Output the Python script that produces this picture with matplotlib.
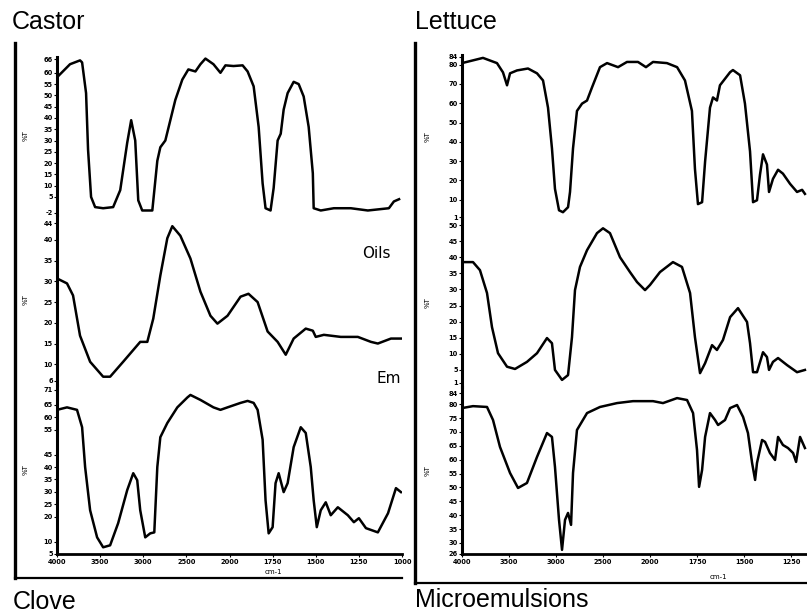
import numpy as np
import matplotlib
matplotlib.use('Agg')
import matplotlib.pyplot as plt
from matplotlib.lines import Line2D

# ====== Spectra (wavenumber cm-1, %T) ======

castor_oil_wn = [4000, 3849, 3733, 3709, 3663, 3640, 3605, 3558, 3465, 3349,
                 3267, 3186, 3140, 3093, 3058, 3012, 2895, 2837, 2802, 2744,
                 2686, 2628, 2547, 2477, 2395, 2337, 2279, 2186, 2105, 2047,
                 1977, 1924, 1895, 1860, 1831, 1808, 1791, 1762, 1744, 1721,
                 1703, 1686, 1663, 1628, 1599, 1570, 1541, 1517, 1512, 1471,
                 1395, 1297, 1198, 1076, 1047, 1017]
castor_oil_t = [58, 63.8, 65.5, 64.6, 51, 26, 5, 0.5, 0, 0.5,
                8, 29, 39, 30, 3.5, -1, -1, 21, 27, 30,
                39, 48, 57, 61.5, 60.6, 63.8, 66.3, 63.8, 60, 63.3,
                63, 63.3, 60.6, 54, 36, 11, 0, -1, 9, 30,
                33, 43.7, 51, 56, 55, 49.5, 36, 15.5, 0, -1,
                0, 0, -1, 0, 3, 4]

castor_em_wn = [4000, 3884, 3814, 3733, 3616, 3465, 3384, 3233, 3035, 2953,
                2884, 2802, 2721, 2663, 2570, 2453, 2337, 2221, 2140, 2023,
                1936, 1890, 1837, 1779, 1721, 1674, 1628, 1558, 1517, 1500,
                1453, 1355, 1256, 1180, 1140, 1064, 1006]
castor_em_t = [30.7, 29.5, 26.6, 16.9, 10.6, 7, 7, 10.6, 15.4, 15.4,
               21, 31.4, 40.4, 43.3, 41, 35.5, 27.5, 21.7, 19.8, 21.7,
               26.3, 27, 25, 17.9, 15.4, 12.3, 16.2, 18.6, 18.1, 16.6,
               17.1, 16.6, 16.6, 15.4, 15, 16.2, 16.2]

clove_wn = [4000, 3884, 3768, 3709, 3674, 3616, 3535, 3465, 3384, 3291,
            3186, 3116, 3070, 3035, 2977, 2919, 2872, 2837, 2802, 2721,
            2605, 2488, 2453, 2337, 2186, 2105, 2023, 1936, 1895, 1860,
            1837, 1808, 1791, 1773, 1750, 1733, 1715, 1686, 1663, 1628,
            1587, 1558, 1529, 1512, 1494, 1471, 1442, 1413, 1372, 1314,
            1279, 1250, 1209, 1140, 1081, 1035, 1006]
clove_t = [63, 64, 63, 56, 40, 22.6, 11.7, 7.7, 8.5, 17.4,
           30.7, 37.5, 34.7, 22.6, 11.7, 13.3, 13.7, 40, 52, 57.7,
           64, 68, 69, 67, 64, 63, 64, 65.8, 66.6, 65.8,
           63, 51, 26.6, 13.3, 15.8, 33.5, 37.5, 29.9, 33.5, 48,
           56, 53.7, 40, 26.6, 15.8, 22.6, 25.8, 20.6, 23.8, 20.6,
           17.8, 19.4, 15.4, 13.7, 21.4, 31.5, 29.9]

lettuce_oil_wn = [4000, 3777, 3628, 3564, 3521, 3489, 3415, 3298, 3202, 3138,
                  3085, 3043, 3011, 2968, 2926, 2872, 2851, 2819, 2777, 2723,
                  2670, 2617, 2532, 2457, 2340, 2245, 2128, 2043, 1984, 1910,
                  1856, 1814, 1777, 1761, 1745, 1723, 1707, 1681, 1665, 1644,
                  1628, 1574, 1559, 1521, 1495, 1468, 1452, 1431, 1415, 1399,
                  1378, 1367, 1346, 1319, 1293, 1255, 1218, 1191, 1176]
lettuce_oil_t = [80.8, 83.5, 80.8, 76, 69.3, 75.5, 77, 78, 75.5, 71.8,
                 57.7, 36.6, 15.6, 4.5, 3.5, 6.1, 14, 36.6, 56, 59.8,
                 61.4, 68.2, 78.7, 80.8, 78.7, 81.4, 81.4, 78.7, 81.4, 80.8,
                 78.7, 71.8, 56, 26, 7.7, 8.7, 29.8, 57.7, 63, 61.4,
                 69.3, 76.1, 77.2, 74.5, 59.8, 35, 8.7, 9.7, 23, 33.5,
                 28.2, 14, 20.8, 25.5, 23.5, 18.2, 14, 15.1, 13]

lettuce_em_wn = [4000, 3883, 3809, 3734, 3681, 3617, 3521, 3436, 3309, 3202,
                 3096, 3043, 3011, 2936, 2872, 2830, 2798, 2745, 2670, 2564,
                 2500, 2426, 2319, 2213, 2138, 2053, 2000, 1947, 1878, 1830,
                 1787, 1761, 1734, 1707, 1670, 1644, 1612, 1574, 1532, 1484,
                 1468, 1452, 1431, 1399, 1378, 1367, 1346, 1319, 1271, 1218,
                 1176]
lettuce_em_t = [38.5, 38.5, 36, 28.9, 18.3, 10.2, 6, 5.3, 7.5, 10.2,
                14.9, 13.3, 5, 1.9, 3.4, 15.2, 29.8, 37, 42.2, 47.5,
                49, 47.5, 40, 35.4, 32.3, 29.8, 31.4, 35.4, 38.5, 37,
                28.9, 15.2, 4, 7.1, 12.7, 11.2, 14.3, 21.4, 24.2, 19.9,
                13.3, 4.3, 4.3, 10.5, 9, 5, 7.5, 8.7, 6.5, 4.3,
                5]

micro_wn = [4000, 3883, 3734, 3670, 3596, 3489, 3404, 3309, 3202, 3096,
            3043, 3011, 2968, 2936, 2904, 2872, 2840, 2819, 2777, 2670,
            2532, 2351, 2181, 1984, 1931, 1856, 1803, 1771, 1750, 1739,
            1723, 1707, 1681, 1654, 1638, 1601, 1574, 1537, 1505, 1479,
            1457, 1441, 1431, 1404, 1388, 1362, 1335, 1319, 1293, 1266,
            1239, 1223, 1202, 1176]
micro_t = [78.6, 79.3, 79, 74.3, 64.6, 55.2, 49.8, 51.6, 61, 69.6,
           68.2, 57.4, 38.3, 27.5, 38.3, 40.8, 36.5, 55.2, 70.7, 76.8,
           79, 80.4, 81.1, 81.1, 80.4, 82.2, 81.5, 76.8, 63.5, 50.2,
           56.3, 68.2, 76.8, 74.3, 72.5, 74.3, 78.6, 79.7, 75.4, 69.6,
           58.8, 52.7, 58.8, 67.1, 66.4, 62.4, 59.9, 68.2, 65.3, 64.2,
           62.4, 59.2, 68.2, 64.2]

# tick labels as printed on the scan
castor_oil_ticks = [-2, 5, 10, 15, 20, 25, 30, 35, 40, 45, 50, 55, 60, 66]
castor_em_ticks = [6, 10, 15, 20, 25, 30, 35, 40, 44]
clove_ticks = [5, 10, 20, 25, 30, 35, 40, 45, 55, 60, 65, 71]
lettuce_oil_ticks = [1, 10, 20, 30, 40, 50, 60, 70, 80, 84]
lettuce_em_ticks = [1, 5, 10, 15, 20, 25, 30, 35, 40, 45, 50]
micro_ticks = [26, 30, 35, 40, 45, 50, 55, 60, 65, 70, 75, 80, 84]

left_xticks = [4000, 3500, 3000, 2500, 2000, 1750, 1500, 1250, 1000]
right_xticks = [4000, 3500, 3000, 2500, 2000, 1750, 1500, 1250]

# ====== Layout helpers (pixel boxes on the 807x615 canvas) ======

W, H = 807, 615


def box(x0, y0, x1, y1):
    return [x0 / W, 1 - y1 / H, (x1 - x0) / W, (y1 - y0) / H]


# FTIR axis: 500 cm-1 per division above 2000, 250 cm-1 per division below
def fwd(w):
    w = np.asarray(w, dtype=float)
    return np.where(w >= 2000, w / 500.0, 4 + (w - 2000) / 250.0)


def inv(s):
    s = np.asarray(s, dtype=float)
    return np.where(s >= 4, s * 500.0, 2000 + (s - 4) * 250.0)


fig = plt.figure(figsize=(8.07, 6.15), dpi=100)

panels = [
    # box, wn, %T, ylim, yticks, xlim, xticks (None = no x axis)
    (box(57, 57, 402, 215), castor_oil_wn, castor_oil_t, (-3, 67), castor_oil_ticks, (4000, 1000), None),
    (box(57, 215, 402, 385), castor_em_wn, castor_em_t, (5, 46), castor_em_ticks, (4000, 1000), None),
    (box(57, 385, 402, 554), clove_wn, clove_t, (5, 73), clove_ticks, (4000, 1000), left_xticks),
    (box(462, 55, 807, 218), lettuce_oil_wn, lettuce_oil_t, (0.5, 85), lettuce_oil_ticks, (4000, 1165), None),
    (box(462, 218, 807, 387), lettuce_em_wn, lettuce_em_t, (-0.3, 52.2), lettuce_em_ticks, (4000, 1165), None),
    (box(462, 387, 807, 554), micro_wn, micro_t, (26, 86.2), micro_ticks, (4000, 1165), right_xticks),
]

for rect, wn, t, ylim, yt, xlim, xt in panels:
    ax = fig.add_axes(rect)
    ax.patch.set_alpha(0)
    ax.set_xscale('function', functions=(fwd, inv))
    ax.plot(wn, t, color='black', linewidth=1.8, solid_joinstyle='round')
    ax.set_xlim(*xlim)
    ax.set_ylim(*ylim)
    ax.set_yticks(yt)
    ax.set_yticklabels([str(v) for v in yt])
    for side in ['top', 'right']:
        ax.spines[side].set_visible(False)
    ax.spines['left'].set_linewidth(2.2)
    ax.tick_params(axis='y', length=2, width=0.8, pad=1, labelsize=4.8)
    for lab in ax.get_yticklabels():
        lab.set_fontweight('bold')
    if xt is None:
        ax.spines['bottom'].set_visible(False)
        ax.set_xticks([])
        ax.minorticks_off()
    else:
        ax.spines['bottom'].set_linewidth(2.0)
        ax.set_xticks(xt)
        ax.set_xticklabels([str(v) for v in xt])
        ax.minorticks_off()
        ax.tick_params(axis='x', length=2, width=0.8, pad=1.5, labelsize=4.8)
        for lab in ax.get_xticklabels():
            lab.set_fontweight('bold')
    ax.text(-0.09 if rect[0] < 0.5 else -0.1, 0.5, '%T', transform=ax.transAxes,
            rotation=90, fontsize=5, ha='center', va='center')

# ====== Outer frame of each scanned column ======

for x0, y0, x1 in [(15, 43, 402), (415, 43, 807)]:
    yb = 578 if x0 == 15 else 583
    fig.add_artist(Line2D([x0 / W, x0 / W], [1 - y0 / H, 1 - yb / H],
                          color='black', linewidth=2.4))
    fig.add_artist(Line2D([x0 / W, x1 / W], [1 - yb / H, 1 - yb / H],
                          color='black', linewidth=1.6))

# ====== Labels ======

title_font = dict(family='Liberation Sans', fontsize=18, va='baseline')
fig.text(12 / W, 1 - 29 / H, 'Castor', **title_font)
fig.text(415 / W, 1 - 29 / H, 'Lettuce', **title_font)
fig.text(13 / W, 1 - 609 / H, 'Clove', **title_font)
fig.text(415 / W, 1 - 607 / H, 'Microemulsions', **title_font)

fig.text(362 / W, 1 - 258 / H, 'Oils', fontsize=11, va='baseline')
fig.text(376 / W, 1 - 383 / H, 'Em', fontsize=11, va='baseline')

fig.text(273 / W, 1 - 574 / H, 'cm-1', fontsize=5, ha='center', va='baseline')
fig.text(718 / W, 1 - 579 / H, 'cm-1', fontsize=5, ha='center', va='baseline')

plt.savefig('out.png', dpi=100)
